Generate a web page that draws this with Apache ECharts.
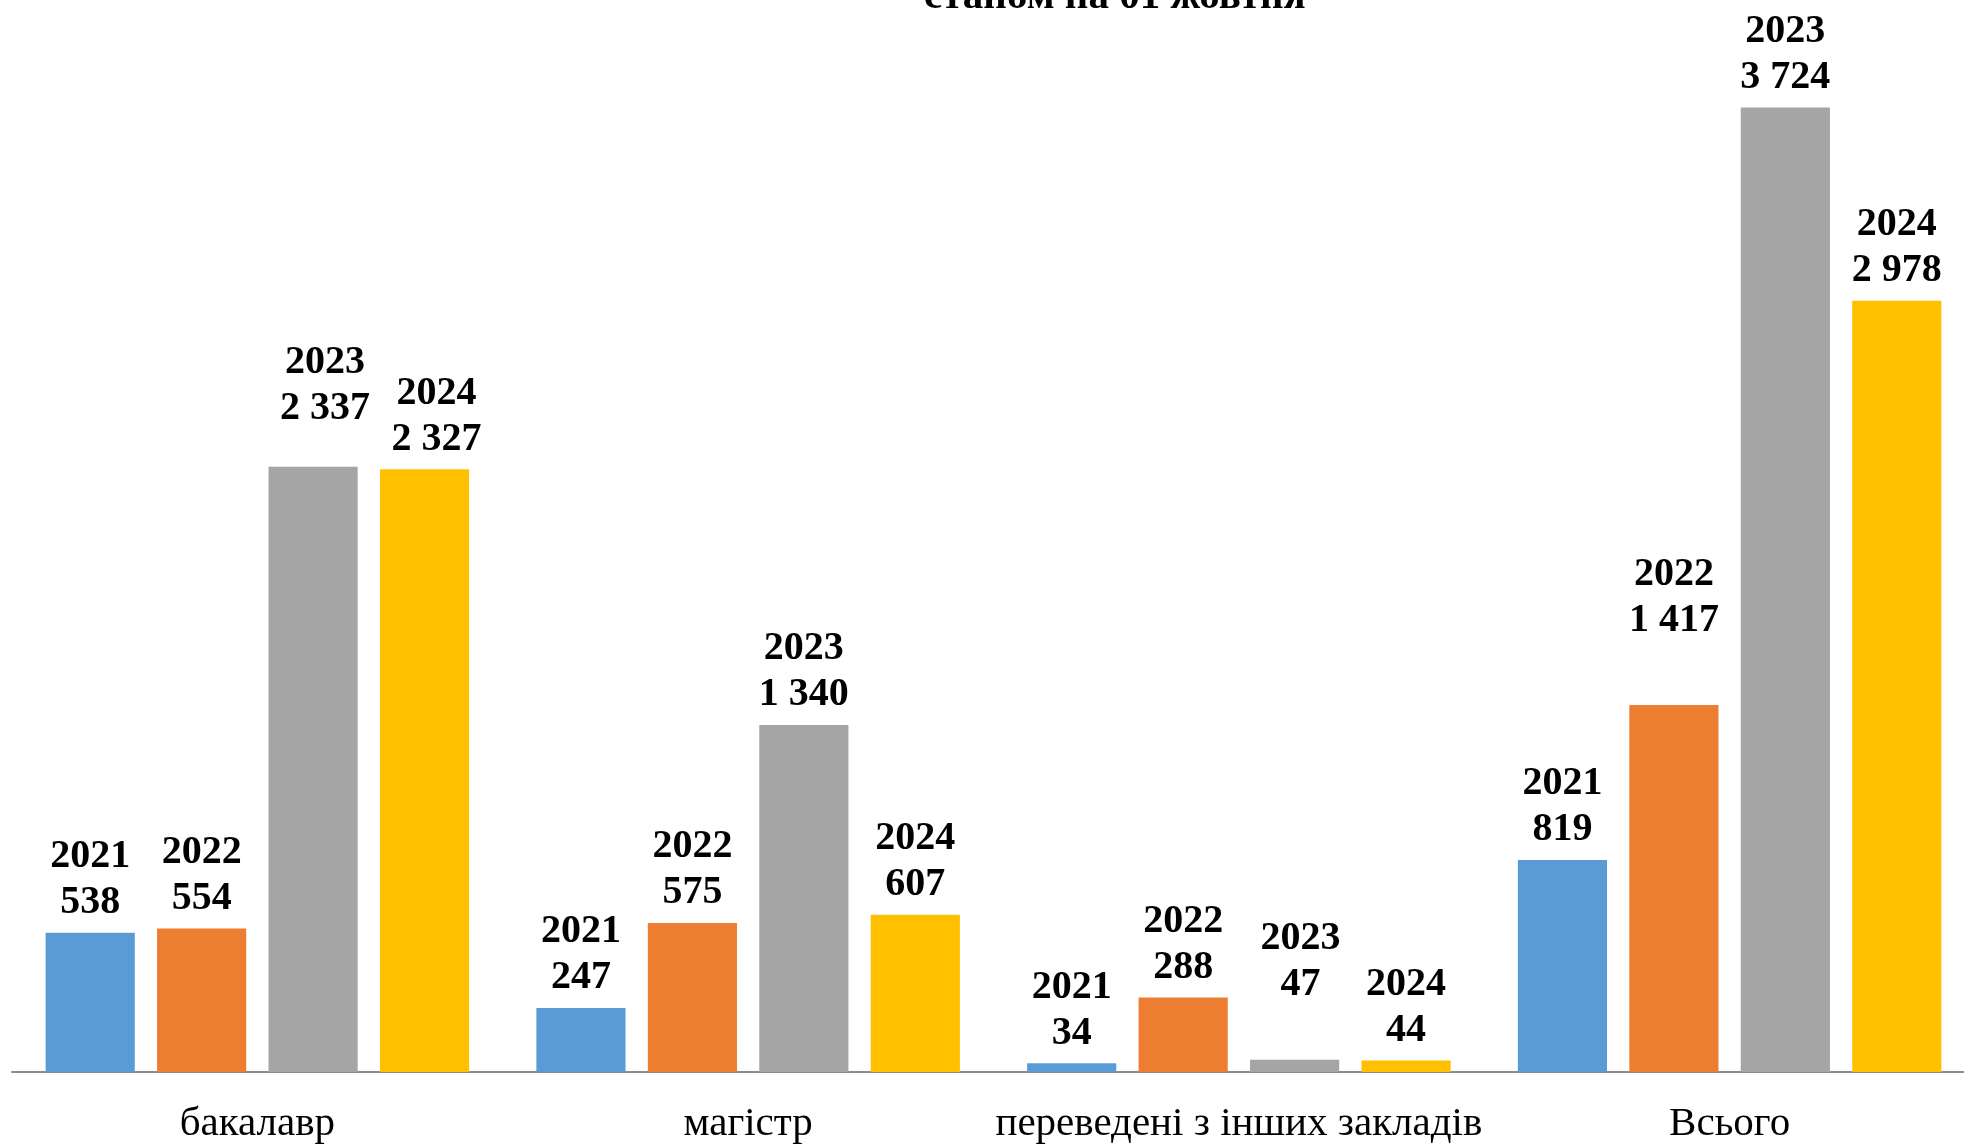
<!DOCTYPE html>
<html>
<head>
<meta charset="utf-8">
<script src="https://cdn.jsdelivr.net/npm/echarts@6/dist/echarts.min.js"></script>
<style>
html,body{margin:0;padding:0;background:#fff;overflow:hidden;}
#chart{width:2000px;height:1145px;}
</style>
</head>
<body>
<div id="chart"></div>
<script>
const categories = ['бакалавр', 'магістр', 'переведені з інших закладів', 'Всього'];
const years = ['2021', '2022', '2023', '2024'];
const values2021 = [538, 247, 34, 819];
const values2022 = [554, 575, 288, 1417];
const values2023 = [2337, 1340, 47, 3724];
const values2024 = [2327, 607, 44, 2978];
const colors = ['#5B9BD5', '#ED7D31', '#A5A5A5', '#FFC000'];
const titleText = 'станом на 01 жовтня';

const allValues = [values2021, values2022, values2023, values2024];

// manual label nudges (series index -> category index -> [dx, dy]), as in the source
const labelNudges = {
  1: { 3: [0, -54] },
  2: { 0: [12, -28], 2: [6, -45] },
  3: { 0: [12, 0] }
};

function fmt(v) {
  return String(v).replace(/\B(?=(\d{3})+(?!\d))/g, ' ');
}

const chart = echarts.init(document.getElementById('chart'));
const series = years.map((y, i) => ({
  name: y,
  type: 'bar',
  data: allValues[i].map((v, j) => {
    const n = labelNudges[i] && labelNudges[i][j];
    return n ? { value: v, label: { offset: n } } : v;
  }),
  itemStyle: { color: colors[i] },
  barGap: '25%',
  barCategoryGap: '13.7%',
  label: {
    show: true,
    position: 'top',
    distance: 7,
    formatter: p => y + '\n' + fmt(p.value),
    fontFamily: 'Liberation Serif',
    fontWeight: 'bold',
    fontSize: 40,
    lineHeight: 46,
    color: '#000'
  }
}));

chart.setOption({
  animation: false,
  backgroundColor: '#fff',
  title: {
    text: titleText,
    left: 924,
    top: -23,
    padding: 0,
    textStyle: {
      fontFamily: 'Liberation Serif',
      fontWeight: 'bold',
      fontSize: 41,
      color: '#000'
    }
  },
  grid: { left: 12, top: 36, width: 1963, height: 1037.5 },
  xAxis: {
    type: 'category',
    data: categories,
    axisLine: { lineStyle: { color: '#8c8c8c', width: 2 } },
    axisTick: { show: false },
    axisLabel: {
      interval: 0,
      margin: 32,
      fontFamily: 'Liberation Serif',
      fontSize: 41,
      color: '#000'
    }
  },
  yAxis: {
    type: 'value',
    min: 0,
    max: 4000,
    show: false,
    splitLine: { show: false }
  },
  series: series
});
</script>
</body>
</html>
